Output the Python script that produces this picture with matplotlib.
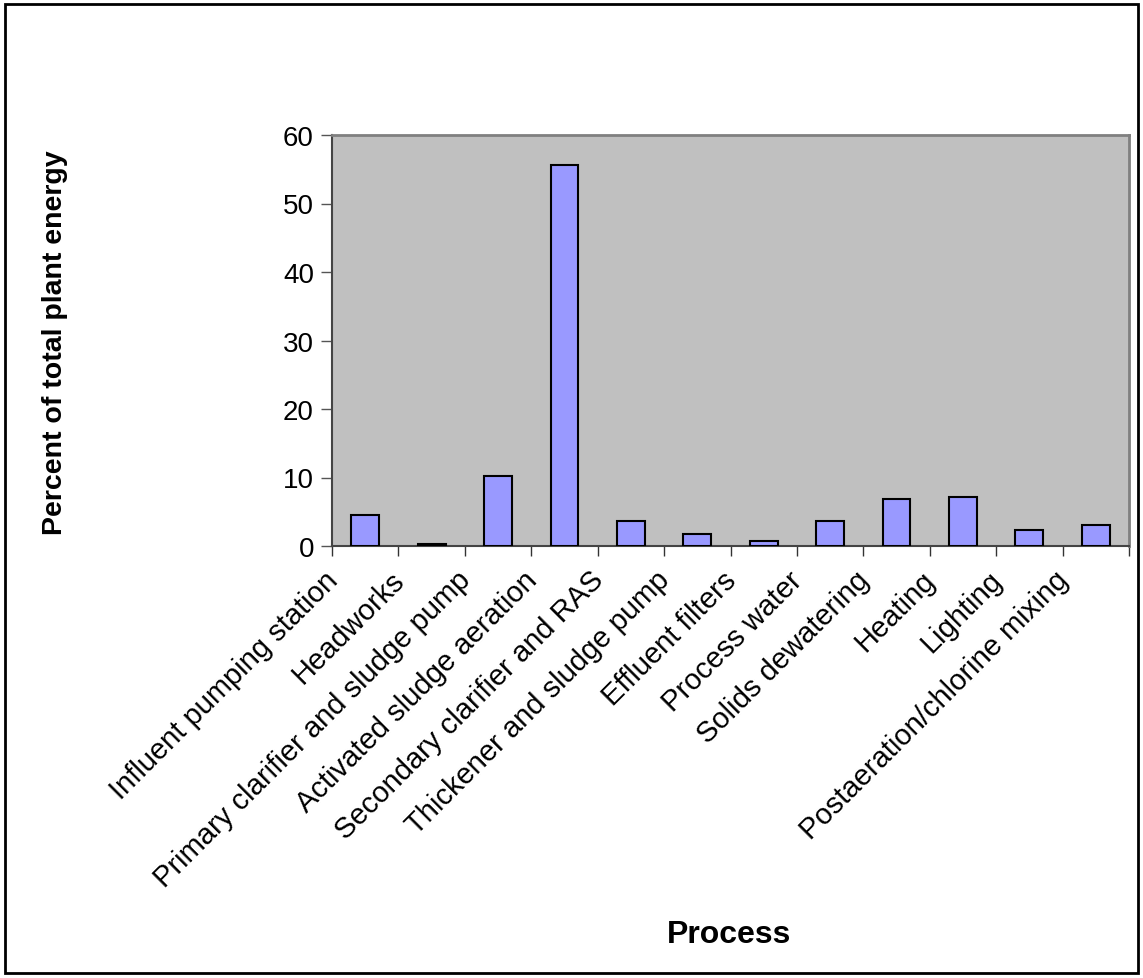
import numpy as np
import matplotlib
matplotlib.use("Agg")
import matplotlib.pyplot as plt
import matplotlib.transforms as mtransforms
from matplotlib.patches import Rectangle

plt.rcParams['font.family'] = ['Liberation Sans', 'DejaVu Sans']

# data
processes = ["Influent pumping station", "Headworks", "Primary clarifier and sludge pump",
             "Activated sludge aeration", "Secondary clarifier and RAS", "Thickener and sludge pump",
             "Effluent filters", "Process water", "Solids dewatering", "Heating", "Lighting",
             "Postaeration/chlorine mixing"]
percent = [4.5, 0.3, 10.2, 55.6, 3.7, 1.7, 0.8, 3.7, 6.8, 7.1, 2.3, 3.1]
yticks = [0, 10, 20, 30, 40, 50, 60]

W, H = 1143, 979
fig = plt.figure(figsize=(W / 100, H / 100), dpi=100)

# outer chart border
fig.patches.append(Rectangle((5 / W, 5 / H), 1 - 10 / W, 1 - 10 / H, transform=fig.transFigure,
                             fill=False, edgecolor='black', linewidth=2))

# plot area in pixels: left 332, right 1129, top 136, bottom 547
ax = fig.add_axes([332 / W, 1 - 547 / H, (1129 - 332) / W, (547 - 136) / H])
ax.set_facecolor('#C0C0C0')

x = np.arange(len(processes))
ax.bar(x, percent, width=0.42, color='#9999FF', edgecolor='black', linewidth=1.5, zorder=3)

ax.set_xlim(-0.5, len(processes) - 0.5)
ax.set_ylim(0, 60)
ax.set_yticks(yticks)
ax.tick_params(axis='y', labelsize=20, length=8, width=1, color='#555555', pad=5)

# ticks at category boundaries, labels at the centres
ax.set_xticks(np.arange(len(processes) + 1) - 0.5)
ax.set_xticklabels([])
ax.tick_params(axis='x', which='major', length=7, width=1, color='#333333')
ax.set_xticks(x, minor=True)
labels = ax.set_xticklabels(processes, minor=True, rotation=45, ha='right', fontsize=21)
ax.tick_params(axis='x', which='minor', length=0, pad=14)
shift = mtransforms.ScaledTranslation(-22 / 100, 0, fig.dpi_scale_trans)
for lab in labels:
    lab.set_transform(lab.get_transform() + shift)

for side in ['left', 'bottom']:
    ax.spines[side].set_color('#444444')
    ax.spines[side].set_linewidth(1.5)
for side in ['top', 'right']:
    ax.spines[side].set_color('#808080')
    ax.spines[side].set_linewidth(2)

fig.text(55 / W, 1 - 343 / H, "Percent of total plant energy", rotation=90,
         fontsize=20.5, fontweight='bold', ha='center', va='center')
fig.text(729 / W, 1 - 935 / H, "Process", fontsize=23, fontweight='bold',
         ha='center', va='center')

fig.savefig("out.png", dpi=100)
